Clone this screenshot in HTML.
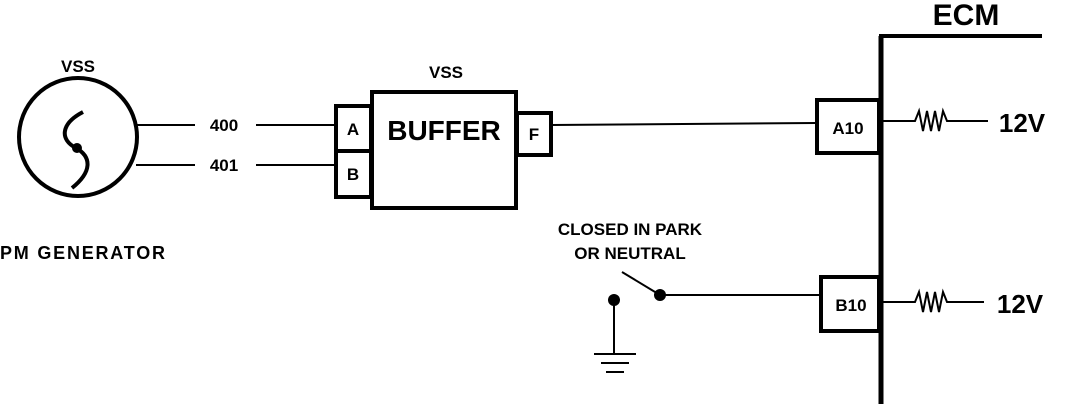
<!DOCTYPE html>
<html><head><style>
html,body{margin:0;padding:0;background:#fff;}
svg{display:block;}
text{font-family:"Liberation Sans",sans-serif;font-weight:bold;fill:#000;}
</style></head><body>
<svg width="1072" height="404" viewBox="0 0 1072 404" xmlns="http://www.w3.org/2000/svg">
<g stroke="#000" fill="none">
<circle cx="78" cy="137" r="59" stroke-width="4"/>
<path d="M83,112 C60,124 60,140 76,148 C92,157 92,172 72,188" stroke-width="4"/>
<line x1="136" y1="125" x2="195" y2="125" stroke-width="2"/>
<line x1="136" y1="165" x2="195" y2="165" stroke-width="2"/>
<line x1="256" y1="125" x2="336" y2="125" stroke-width="2"/>
<line x1="256" y1="165" x2="336" y2="165" stroke-width="2"/>
<rect x="336" y="106" width="35" height="45" stroke-width="4"/>
<rect x="336" y="151" width="35" height="46" stroke-width="4"/>
<rect x="372" y="92" width="144" height="116" stroke-width="4"/>
<rect x="517" y="113" width="34" height="42" stroke-width="4"/>
<line x1="551" y1="125" x2="816" y2="123" stroke-width="2"/>
<rect x="817" y="100" width="62" height="53" stroke-width="4"/>
<rect x="821" y="277" width="58" height="54" stroke-width="4"/>
<line x1="881" y1="36" x2="881" y2="404" stroke-width="5"/>
<line x1="879" y1="36" x2="1042" y2="36" stroke-width="4"/>
<line x1="660" y1="295" x2="821" y2="295" stroke-width="2"/>
<line x1="622" y1="272" x2="660" y2="295" stroke-width="2"/>
<line x1="614" y1="300" x2="614" y2="354" stroke-width="2"/>
<line x1="594" y1="354" x2="636" y2="354" stroke-width="2"/>
<line x1="601" y1="363" x2="629" y2="363" stroke-width="2"/>
<line x1="606" y1="372" x2="624" y2="372" stroke-width="2"/>
<path d="M883,121 H915 L919,111 L923,131 L927,111 L931,131 L935,111 L939,131 L943,111 L947,121 H988" stroke-width="2"/>
<path d="M883,302 H915 L919,292 L923,312 L927,292 L931,312 L935,292 L939,312 L943,292 L947,302 H984" stroke-width="2"/>
</g>
<circle cx="660" cy="295" r="6" fill="#000"/>
<circle cx="614" cy="300" r="6" fill="#000"/>
<circle cx="77" cy="148" r="5" fill="#000"/>
<text x="78" y="72" font-size="17" text-anchor="middle">VSS</text>
<text x="446" y="78" font-size="17" text-anchor="middle">VSS</text>
<text x="0" y="259" font-size="18" textLength="165">PM GENERATOR</text>
<text x="224" y="131" font-size="17" text-anchor="middle">400</text>
<text x="224" y="171" font-size="17" text-anchor="middle">401</text>
<text x="353" y="135" font-size="17" text-anchor="middle">A</text>
<text x="353" y="180" font-size="17" text-anchor="middle">B</text>
<text x="444" y="140" font-size="28" text-anchor="middle">BUFFER</text>
<text x="534" y="140" font-size="17" text-anchor="middle">F</text>
<text x="848" y="134" font-size="17" text-anchor="middle">A10</text>
<text x="851" y="311" font-size="17" text-anchor="middle">B10</text>
<text x="966" y="25" font-size="30" text-anchor="middle">ECM</text>
<text x="1022" y="132" font-size="26" text-anchor="middle">12V</text>
<text x="1020" y="313" font-size="26" text-anchor="middle">12V</text>
<text x="630" y="235" font-size="17" text-anchor="middle">CLOSED IN PARK</text>
<text x="630" y="259" font-size="17" text-anchor="middle">OR NEUTRAL</text>
</svg>
</body></html>
